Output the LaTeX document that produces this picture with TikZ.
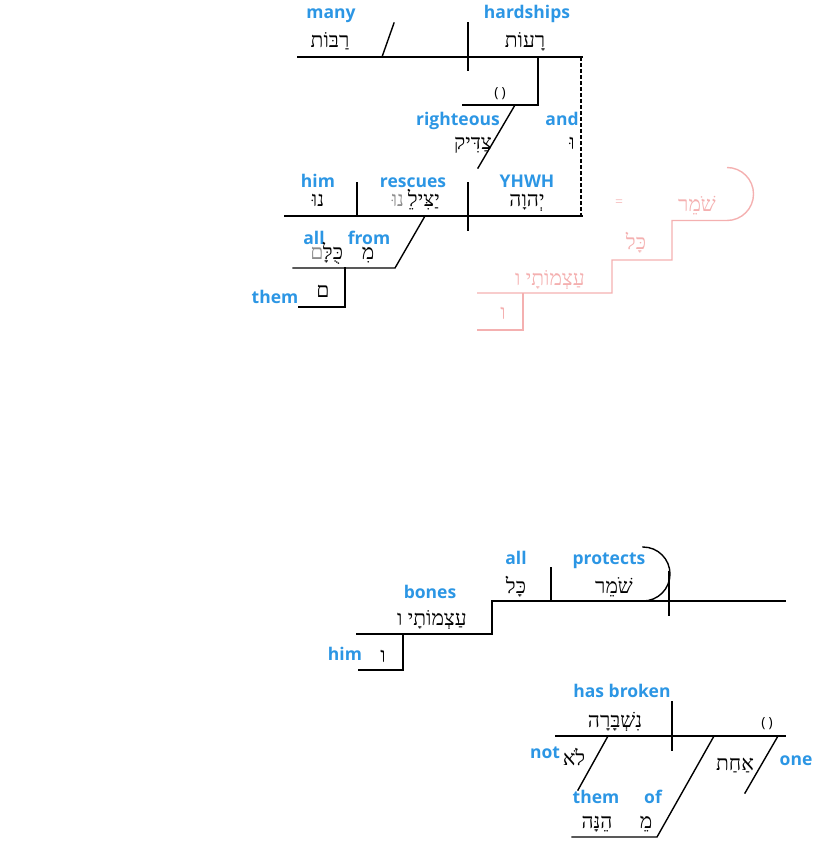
\documentclass[tikz,border=0pt]{standalone}
\usepackage{fontspec}
\setmainfont{Liberation Serif}
\newfontfamily\hebfont[Script=Hebrew]{Liberation Serif}
\newfontfamily\lblfont{Open Sans}
\TeXXeTstate=1
\definecolor{lblblue}{RGB}{44,150,228}
\definecolor{ghost}{RGB}{244,176,176}
\definecolor{ghostlight}{RGB}{246,196,196}
\newcommand{\heb}[1]{{\hebfont\beginR #1\endR}}
\tikzset{
  lbl/.style={anchor=base, inner sep=0pt, text=lblblue, font=\lblfont\bfseries\fontsize{17.5}{20}\selectfont},
  hw/.style={anchor=base, inner sep=0pt, font=\hebfont\fontsize{21}{24}\selectfont},
  hwgrey/.style={hw, text=black!45},
  hwghost/.style={hw, text=ghost},
  paren/.style={anchor=center, inner sep=0pt, font=\lblfont\fontsize{14}{16}\selectfont},
  ln/.style={line width=1.4pt, line cap=rect},
  gl/.style={line width=1.4pt, draw=ghost}
}
\begin{document}
\begin{tikzpicture}[x=1pt,y=-1pt]
\useasboundingbox (0,0) rectangle (825,866);
% ---------- top diagram ----------
\draw[ln] (298,57) -- (582,57);
\draw[ln] (382,57) -- (394,23);
\draw[ln] (468,23) -- (468,70);
\draw[ln] (538,57) -- (538,105) -- (463,105);
\draw[ln] (515,105) -- (478,168);
\draw[line width=1.2pt, dash pattern=on 4pt off 2pt] (581,57) -- (581,216);
\draw[ln] (285,216) -- (582,216);
\draw[ln] (357,183) -- (357,216);
\draw[ln] (468,183) -- (468,230);
\draw[ln] (425,216) -- (395,268) -- (293,268);
\draw[ln] (345,268) -- (345,307) -- (299,307);

\node[lbl] (lmany) at (331,19) {many};
\node[hw] (hmany) at (330,48) {\heb{רַבּוֹת}};
\node[lbl] (lhard) at (527,19) {hardships};
\node[hw] (hhard) at (525,48) {\heb{רָעוֹת}};
\node[paren] (p1) at (500,94) {(\hspace{3pt})};
\node[lbl] (lright) at (458,126) {righteous};
\node[hw] (hright) at (473,150) {\heb{צַדִּיק}};
\node[lbl] (land) at (562,126) {and};
\node[hw] (hand) at (572,150) {\heb{וּ}};
\node[lbl] (lhim) at (318,188) {him};
\node[hw] (hhim) at (318,207) {\heb{נוּ}};
\node[lbl] (lresc) at (413,188) {rescues};
\node[hw, anchor=base east] (hresc) at (440,207) {\heb{יַצִּילֵ}};
\node[hwgrey, anchor=base east] (hrescg) at (hresc.base west) {\heb{נוּ}\,};
\node[lbl] (lyhwh) at (527,188) {YHWH};
\node[hw] (hyhwh) at (527,207) {\heb{יְהוָה}};
\node[lbl] (lall) at (314,245) {all};
\node[lbl] (lfrom) at (369,245) {from};
\node[hw] (hfrom) at (368,260) {\heb{מִ}};
\node[hw] (hall) at (333,260) {\heb{כֻּלָּ}};
\node[hwgrey] (hallg) at (317,260) {\heb{ם}};
\node[lbl] (lthem) at (275,303) {them};
\node[hw] (hthem) at (323,298) {\heb{ם}};

% ---------- ghost ----------
\draw[gl] (727,167.5) arc[start angle=-90, end angle=90, radius=26.5] -- (672,220.5) -- (672,260) -- (612,260) -- (612,293) -- (477,293);
\draw[gl] (523,293) -- (523,330) -- (477,330);
\node[anchor=center, inner sep=0pt, text=ghostlight, font=\lblfont\fontsize{14}{16}\selectfont] (geq) at (619,203) {=};
\node[hwghost] (gshomer) at (697,212) {\heb{שֹׁמֵר}};
\node[hwghost] (gkol) at (636,250) {\heb{כָּל}};
\node[hwghost] (gatsm) at (550,285) {\heb{עַצְמוֹתָי ו}};
\node[hwghost] (gvav) at (503,319) {\heb{ו}};

% ---------- bottom diagram ----------
\draw[ln] (643,547) arc[start angle=-90, end angle=90, radius=27];
\draw[ln] (492,601) -- (785,601);
\draw[ln] (669,572) -- (669,615);
\draw[ln] (551,568) -- (551,601);
\draw[ln] (492,601) -- (492,634) -- (357,634);
\draw[ln] (403,634) -- (403,670) -- (359,670);

\node[lbl] (ball) at (516,564) {all};
\node[hw] (bkol) at (516,593) {\heb{כָּל}};
\node[lbl] (bprot) at (609,564) {protects};
\node[hw] (bshomer) at (614,593) {\heb{שֹׁמֵר}};
\node[lbl] (bbones) at (430,598) {bones};
\node[hw] (batsm) at (432,625) {\heb{עַצְמוֹתָי ו}};
\node[lbl] (bhim) at (345,660) {him};
\node[hw] (bvav) at (383,662) {\heb{ו}};

% ---------- lowest diagram ----------
\draw[ln] (556,736) -- (785,736);
\draw[ln] (672,702) -- (672,750);
\draw[ln] (608,736) -- (578,790);
\draw[ln] (714,736) -- (657,837) -- (572,837);
\draw[ln] (778,736) -- (745,793);

\node[lbl] (lbroken) at (622,697) {has broken};
\node[hw] (hbroken) at (615,727) {\heb{נִשְׁבָּרָה}};
\node[paren] (p2) at (767,724) {(\hspace{3pt})};
\node[lbl] (lnot) at (545,758) {not};
\node[hw] (hnot) at (574,765) {\heb{לֹא}};
\node[lbl] (lone) at (796,765) {one};
\node[hw] (hone) at (735,770) {\heb{אַחַת}};
\node[lbl] (lthem2) at (596,803) {them};
\node[lbl] (lof) at (653,803) {of};
\node[hw] (hof) at (646,828) {\heb{מֵ}};
\node[hw] (hthem2) at (597,828) {\heb{הֵנָּה}};
\end{tikzpicture}
\end{document}
